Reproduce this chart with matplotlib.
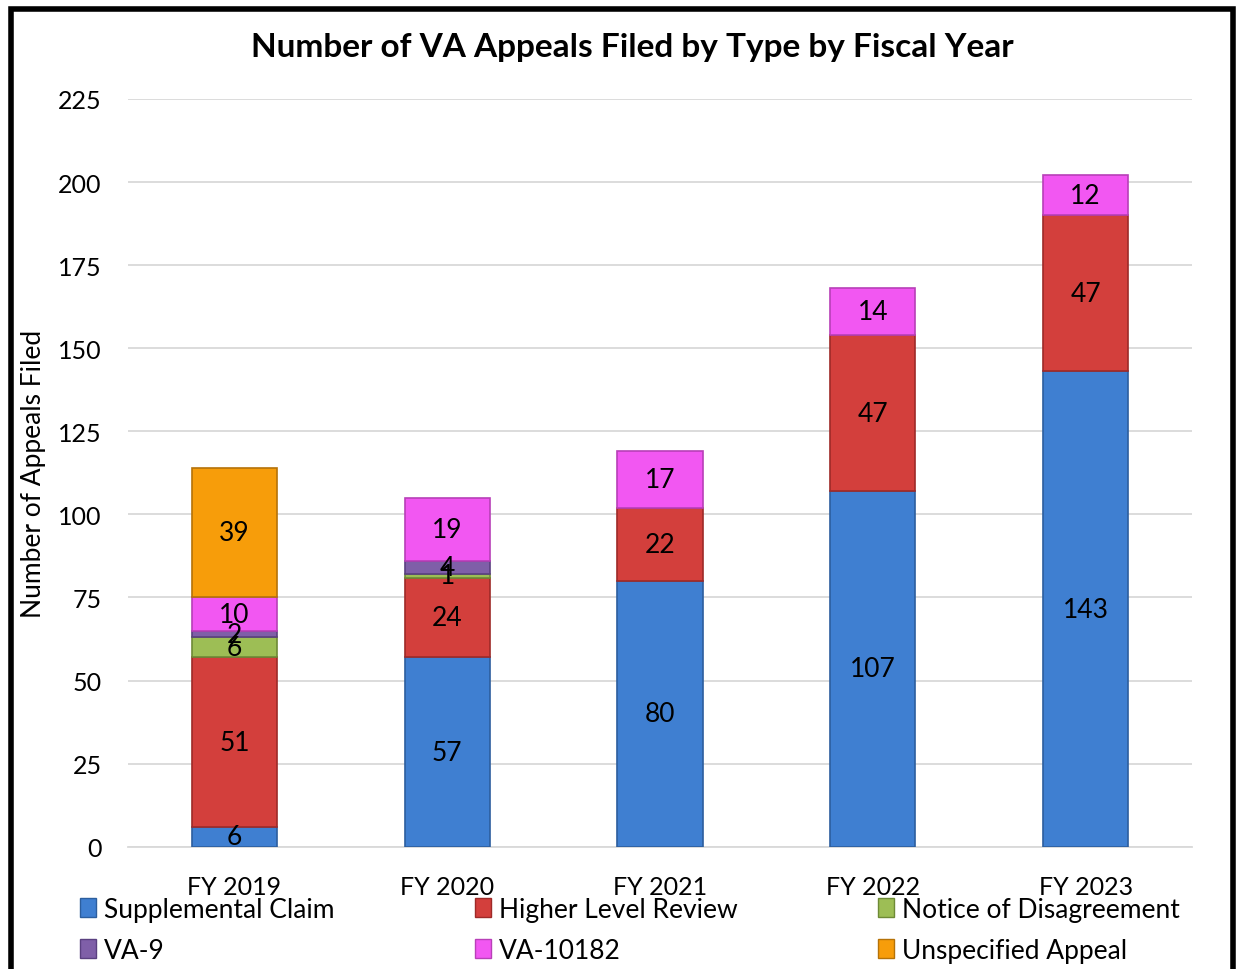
import matplotlib.pyplot as plt
from matplotlib.patches import Rectangle
import numpy as np

plt.rcParams['font.family'] = ['Lato', 'DejaVu Sans']

years = ["FY 2019", "FY 2020", "FY 2021", "FY 2022", "FY 2023"]
series_names = ["Supplemental Claim", "Higher Level Review", "Notice of Disagreement",
                "VA-9", "VA-10182", "Unspecified Appeal"]
supplemental = [6, 57, 80, 107, 143]
higher_level = [51, 24, 22, 47, 47]
notice_disagree = [6, 1, 0, 0, 0]
va9 = [2, 4, 0, 0, 0]
va10182 = [10, 19, 17, 14, 12]
unspecified = [39, 0, 0, 0, 0]

colors = ["#3F7FD1", "#D33F3C", "#9DBE55", "#7F5FA8", "#F257F2", "#F79D0A"]
edges = ["#2C5E9E", "#9E2A28", "#6E8A36", "#5A4080", "#B840B8", "#B57208"]

fig = plt.figure(figsize=(12.43, 9.70), dpi=100)
ax = fig.add_axes([0.103, 0.126, 0.856, 0.771])

x = np.arange(len(years))
bottom = np.zeros(len(years))
for vals, name, c, ec in zip([supplemental, higher_level, notice_disagree, va9, va10182, unspecified],
                             series_names, colors, edges):
    vals = np.array(vals, dtype=float)
    lw = [1.2 if v > 0 else 0 for v in vals]
    ax.bar(x, vals, width=0.4, bottom=bottom, color=c, edgecolor=ec,
           linewidth=lw, label=name, zorder=3)
    for xi, v, b in zip(x, vals, bottom):
        if v > 0:
            ax.text(xi, b + v / 2, str(int(v)), ha='center', va='center',
                    fontsize=19, color='black', zorder=4)
    bottom += vals

ax.set_xlim(-0.5, 4.5)
ax.set_ylim(0, 225)
ax.set_yticks(range(0, 226, 25))
ax.set_xticks(x)
ax.set_xticklabels(years)
ax.tick_params(axis='y', length=0, pad=19, labelsize=18)
ax.tick_params(axis='x', length=0, pad=20, labelsize=18)
ax.grid(axis='y', color='#D9D9D9', linewidth=1.3, zorder=0)
for s in ['top', 'right', 'left']:
    ax.spines[s].set_visible(False)
ax.spines['bottom'].set_color('#D9D9D9')
ax.spines['bottom'].set_linewidth(1.3)

ax.set_ylabel("Number of Appeals Filed", fontsize=19)
ax.yaxis.set_label_coords(-0.077, 0.5)
fig.text(0.509, 0.951, "Number of VA Appeals Filed by Type by Fiscal Year",
         ha='center', va='center', fontsize=24, fontweight='bold')

# legend filled row by row like the original
order = [0, 3, 1, 4, 2, 5]
leg_handles = [plt.Rectangle((0, 0), 1, 1, facecolor=colors[i], edgecolor=edges[i])
               for i in order]
fig.legend(leg_handles, [series_names[i] for i in order],
           ncol=3, loc='lower left', bbox_to_anchor=(0.052, -0.01, 0.91, 0.1),
           mode='expand', frameon=False, fontsize=19, handlelength=0.6,
           handleheight=0.7, handletextpad=0.3, labelspacing=0.62,
           borderaxespad=0.2)

fig.add_artist(Rectangle((0.0085, -0.02), 0.9835, 1.01, transform=fig.transFigure,
                         fill=False, edgecolor='black', linewidth=4))

fig.savefig("out.png", dpi=100)
